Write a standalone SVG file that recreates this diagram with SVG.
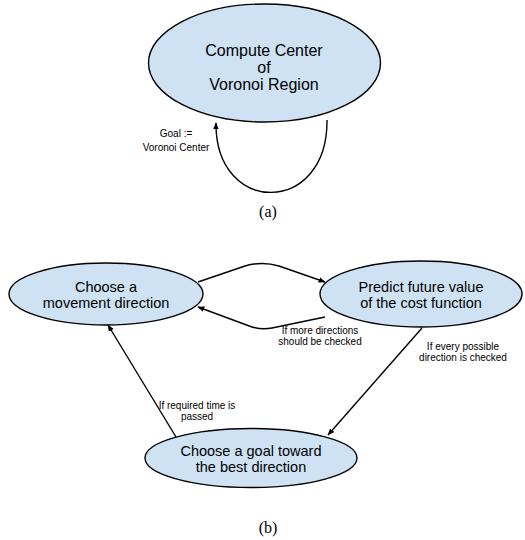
<svg xmlns="http://www.w3.org/2000/svg" width="525" height="540" viewBox="0 0 525 540">
<style>
.node{fill:#cfe2f3;stroke:#000;stroke-width:1.4}
.t{font-family:"Liberation Sans",Arial,sans-serif;fill:#000;text-anchor:middle}
.big{font-size:16px}
.mid{font-size:14.5px}
.sm{font-size:10px}
.cap{font-family:"Liberation Serif","Times New Roman",serif;font-size:16px;text-anchor:middle;fill:#000}
.e{fill:none;stroke:#000;stroke-width:1.4;marker-end:url(#ah)}
</style>
<defs>
<marker id="ah" viewBox="0 0 10 10" refX="9" refY="5" markerWidth="7" markerHeight="7" orient="auto" markerUnits="userSpaceOnUse">
<path d="M0,1 L10,5 L0,9 Z" fill="#000"/>
</marker>
</defs>
<g id="n-voronoi">
<ellipse class="node" cx="264.5" cy="63" rx="116" ry="59"/>
<text class="t big" x="264" y="56">Compute Center</text>
<text class="t big" x="264" y="73">of</text>
<text class="t big" x="264" y="90">Voronoi Region</text>
</g>
<g id="n-move">
<ellipse class="node" cx="106" cy="294" rx="97" ry="31"/>
<text class="t mid" x="106" y="292">Choose a</text>
<text class="t mid" x="106" y="308">movement direction</text>
</g>
<g id="n-predict">
<ellipse class="node" cx="421" cy="294" rx="101" ry="33"/>
<text class="t mid" x="421" y="292">Predict future value</text>
<text class="t mid" x="421" y="308">of the cost function</text>
</g>
<g id="n-goal">
<ellipse class="node" cx="251" cy="458" rx="106" ry="29.5"/>
<text class="t mid" x="251" y="456">Choose a goal toward</text>
<text class="t mid" x="251" y="472">the best direction</text>
</g>
<g id="connectors">
<path class="e" d="M327,120 C328,216 215,216 216,123"/>
<path class="e" d="M198,282 L245,266 Q262,261 279,266 L325,282"/>
<path class="e" d="M325,317 L272,328 Q262,330 252,327 L198,307"/>
<path class="e" d="M422,328 L328,435"/>
<path class="e" d="M176,437 L108,325"/>
</g>
<g id="labels">
<text class="t sm" x="320" y="334">If more directions</text>
<text class="t sm" x="320" y="345">should be checked</text>
<text class="t sm" x="176" y="137">Goal :=</text>
<text class="t sm" x="176" y="151">Voronoi Center</text>
<text class="t sm" x="463" y="350">If every possible</text>
<text class="t sm" x="463" y="361">direction is checked</text>
<text class="t sm" x="197" y="409">If required time is</text>
<text class="t sm" x="197" y="420">passed</text>
<text class="cap" x="268" y="217">(a)</text>
<text class="cap" x="268" y="533">(b)</text>
</g>
</svg>
